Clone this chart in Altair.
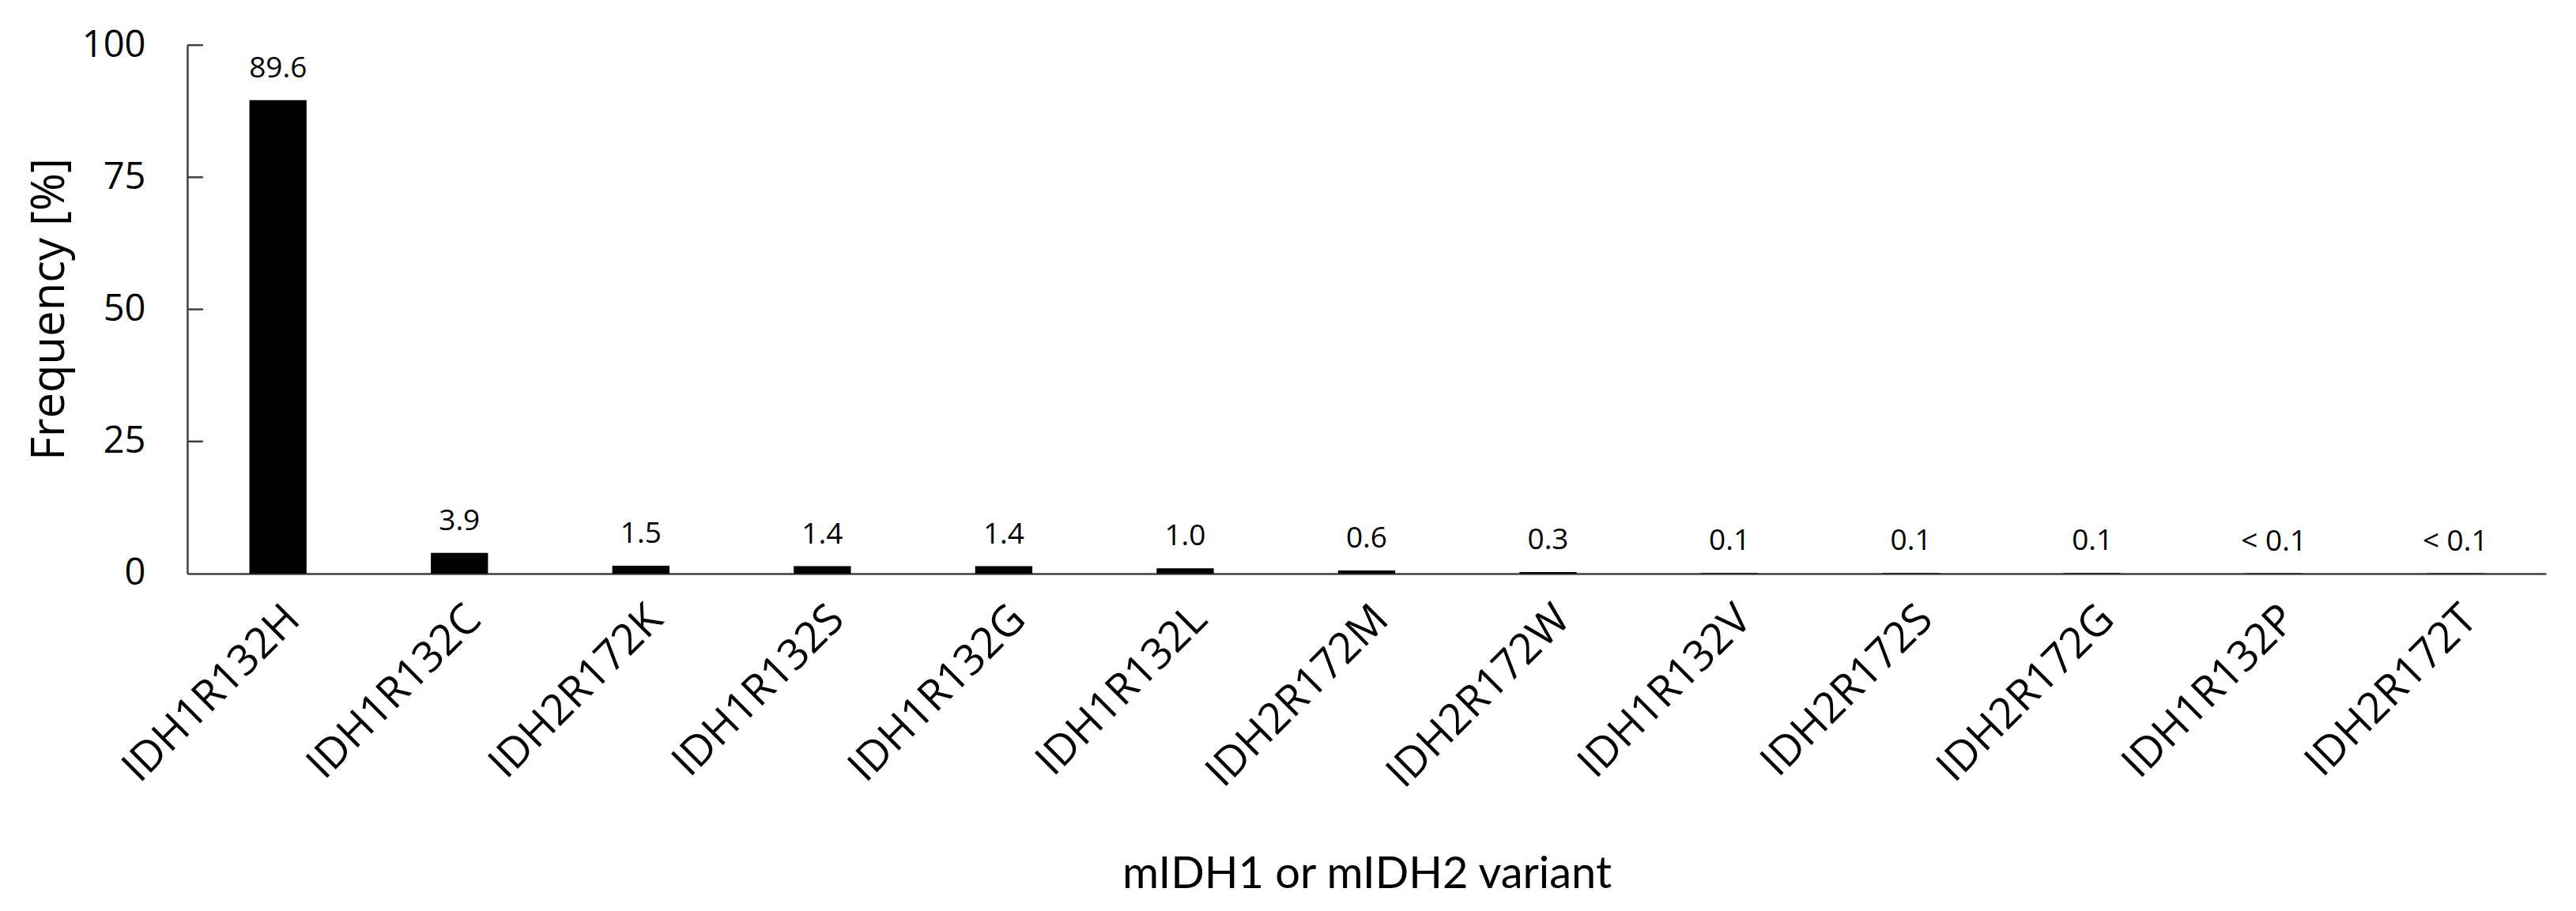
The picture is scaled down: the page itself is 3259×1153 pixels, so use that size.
import altair as alt
import pandas as pd

variants = ["IDH1R132H", "IDH1R132C", "IDH2R172K", "IDH1R132S", "IDH1R132G",
            "IDH1R132L", "IDH2R172M", "IDH2R172W", "IDH1R132V", "IDH2R172S",
            "IDH2R172G", "IDH1R132P", "IDH2R172T"]
freq = [89.6, 3.9, 1.5, 1.4, 1.4, 1.0, 0.6, 0.3, 0.1, 0.1, 0.1, 0.05, 0.05]
freq_text = ["89.6", "3.9", "1.5", "1.4", "1.4", "1.0", "0.6", "0.3",
             "0.1", "0.1", "0.1", "< 0.1", "< 0.1"]
y_ticks = [0, 25, 50, 75, 100]

df = pd.DataFrame({"variant": variants, "freq": freq, "label": freq_text})
ticks_df = pd.DataFrame({"t": y_ticks[1:]})

AXIS_COLOR = "#404040"

x_enc = alt.X(
    "variant:N", sort=variants,
    scale=alt.Scale(paddingInner=0.685, paddingOuter=0.3425),
    axis=alt.Axis(
        title="mIDH1 or mIDH2 variant", labelAngle=-45, labelAlign="right",
        labelBaseline="top", labelPadding=30, ticks=False, labelLimit=0,
        labelFont="Open Sans", labelFontSize=54, labelColor="black",
        titleFont="Lato", titleFontSize=56, titleFontWeight="normal",
        titleColor="black", titleY=398, titleBaseline="alphabetic",
        domainColor=AXIS_COLOR, domainWidth=2.5, grid=False,
    ),
)
y_scale = alt.Scale(domain=[0, 100], nice=False)
y_axis = alt.Axis(
    title="Frequency [%]", values=y_ticks, ticks=False, labelPadding=53,
    labelFont="Open Sans", labelFontSize=47, labelColor="black",
    titleFont="Open Sans", titleFontSize=58, titleFontWeight="normal",
    titleColor="black", titleX=-156, titleY=334, titleBaseline="alphabetic",
    domainColor=AXIS_COLOR, domainWidth=2.5, grid=False,
)

bars = alt.Chart(df).mark_bar(color="black").encode(
    x=x_enc, y=alt.Y("freq:Q", scale=y_scale, axis=y_axis)
)
texts = alt.Chart(df).mark_text(
    dy=-29, baseline="alphabetic", font="Open Sans", fontSize=37, color="black"
).encode(
    x=alt.X("variant:N", sort=variants),
    y=alt.Y("freq:Q", scale=y_scale),
    text="label:N",
)
ticks = alt.Chart(ticks_df).mark_rule(color=AXIS_COLOR, strokeWidth=2.5).encode(
    y=alt.Y("t:Q", scale=y_scale), x=alt.value(0), x2=alt.value(20)
)

chart = alt.layer(bars, texts, ticks).properties(
    width=2985, height=669,
    autosize=alt.AutoSizeParams(type="none"),
    padding={"left": 229, "top": 49, "right": 30, "bottom": 420},
    background="white",
).configure_view(stroke=None, strokeWidth=0)

chart.save("out.html", embed_options={"renderer": "svg", "actions": False})
